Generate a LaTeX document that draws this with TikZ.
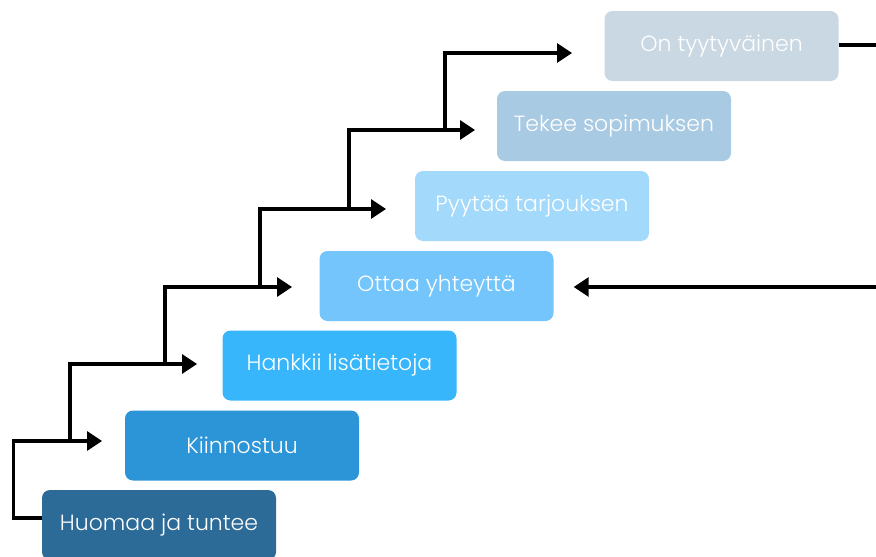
\documentclass[tikz,border=0pt]{standalone}
\usepackage{fontspec}
\setmainfont{Poppins}[UprightFont=* Light]
\usetikzlibrary{arrows.meta, positioning, calc}
\definecolor{cHuo}{HTML}{2C6B98}
\definecolor{cKii}{HTML}{2C95D7}
\definecolor{cHan}{HTML}{38B6FB}
\definecolor{cOtt}{HTML}{73C5FB}
\definecolor{cPyy}{HTML}{A3D9FA}
\definecolor{cTek}{HTML}{A9CAE3}
\definecolor{cTyy}{HTML}{C9D8E2}

\begin{document}
\begin{tikzpicture}[x=1pt, y=-1pt,
      box/.style={rounded corners=8pt, minimum height=70pt, minimum width=234pt,
                  align=center, font=\fontsize{22}{26}\selectfont, text=white, inner sep=0pt},
      ln/.style={line width=3.2pt},
      ar/.style={ln, -{Triangle[length=15pt, width=19pt]}}
    ]
    \useasboundingbox (0,0) rectangle (876,557);
    \clip (0,0) rectangle (876,557);

    \node[box, fill=cHuo] (huo) at (159,525) {Huomaa ja tuntee};
    \node[box, fill=cKii] (kii) at (242,445.5) {Kiinnostuu};
    \node[box, fill=cHan] (han) at (339.5,365.5) {Hankkii lisätietoja};
    \node[box, fill=cOtt] (ott) at (436.5,286) {Ottaa yhteyttä};
    \node[box, fill=cPyy] (pyy) at (532,206) {Pyytää tarjouksen};
    \node[box, fill=cTek] (tek) at (614,126) {Tekee sopimuksen};
    \node[box, fill=cTyy] (tyy) at (721.5,46) {On tyytyväinen};

    % staircase
    \coordinate (t1) at (102,441);
    \draw[ar] ([yshift=7pt]huo.west) -- ++(-28,0) |- (t1);
    \foreach \bx/\by/\tx/\ty [count=\i from 2] in
        {70/441/197/364, 165/364/292/287, 260/287/386/209,
         349/209/475/130, 445/130/572/53}{
      \coordinate (b\i) at (\bx,\by);
      \coordinate (t\i) at (\tx,\ty);
      \draw[ar] (b\i) |- (t\i);
    }

    % loop back
    \coordinate (rtop) at (876,45);
    \coordinate (rmid) at (876,287);
    \draw[ln] ([yshift=1pt]tyy.east) -- ([yshift=1pt]tyy.east -| rtop);
    \draw[ar] (rmid) -- (rmid -| {$(ott.east)+(20,0)$});
  \end{tikzpicture}
\end{document}
